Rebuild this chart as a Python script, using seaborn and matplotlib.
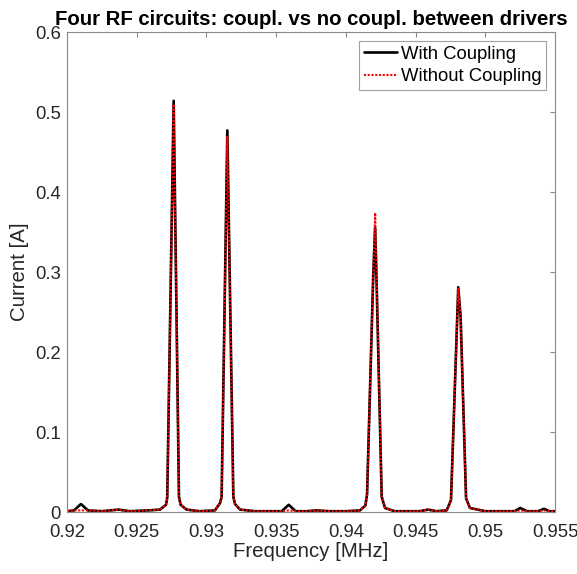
import seaborn as sns
import matplotlib.pyplot as plt
import pandas as pd
import numpy as np

# -- DATA -- #
freq_mhz = [0.9200, 0.9205, 0.9210, 0.9215, 0.9225, 0.9237, 0.9245, 0.9258,
            0.92667, 0.92710, 0.92719, 0.92765, 0.92803, 0.92815, 0.92858, 0.9295,
            0.93061, 0.93097, 0.93109, 0.93150, 0.93193, 0.93205, 0.93241, 0.9335,
            0.9354, 0.9359, 0.9364, 0.9372, 0.9379, 0.9388, 0.9400,
            0.94101, 0.94140, 0.94152, 0.94196, 0.94210, 0.94220, 0.94257, 0.94281,
            0.9435, 0.9453, 0.9459, 0.9465,
            0.94723, 0.94754, 0.94806, 0.94823, 0.94862, 0.94890, 0.9500,
            0.9521, 0.9525, 0.9530, 0.9538, 0.9542, 0.9546, 0.9550]

current_coupled = [0.001, 0.002, 0.010, 0.002, 0.001, 0.003, 0.001, 0.002,
                   0.003, 0.009, 0.018, 0.514, 0.019, 0.009, 0.003, 0.001,
                   0.002, 0.011, 0.019, 0.477, 0.019, 0.010, 0.003, 0.001,
                   0.001, 0.009, 0.001, 0.001, 0.002, 0.001, 0.001,
                   0.002, 0.008, 0.022, 0.294, 0.355, 0.290, 0.019, 0.005,
                   0.001, 0.001, 0.003, 0.001,
                   0.002, 0.015, 0.281, 0.244, 0.017, 0.005, 0.001,
                   0.001, 0.005, 0.001, 0.001, 0.004, 0.001, 0.001]

current_uncoupled = [0.001, 0.002, 0.002, 0.002, 0.001, 0.003, 0.001, 0.002,
                     0.003, 0.009, 0.018, 0.510, 0.019, 0.009, 0.003, 0.001,
                     0.002, 0.011, 0.019, 0.469, 0.019, 0.010, 0.003, 0.001,
                     0.001, 0.002, 0.001, 0.001, 0.002, 0.001, 0.001,
                     0.002, 0.008, 0.022, 0.296, 0.374, 0.300, 0.019, 0.005,
                     0.001, 0.001, 0.003, 0.001,
                     0.002, 0.015, 0.279, 0.244, 0.017, 0.005, 0.001,
                     0.001, 0.002, 0.001, 0.001, 0.002, 0.001, 0.001]

x_ticks = [0.92, 0.925, 0.93, 0.935, 0.94, 0.945, 0.95, 0.955]
y_ticks = [0, 0.1, 0.2, 0.3, 0.4, 0.5, 0.6]

# -- VISUALIZATION -- #
sns.set_style('white')
plt.rcParams['font.family'] = ['Liberation Sans', 'DejaVu Sans']

df = pd.DataFrame({'freq': freq_mhz,
                   'with': current_coupled,
                   'without': current_uncoupled})

fig = plt.figure(figsize=(5.77, 5.74), dpi=100)
ax = fig.add_axes([0.1161, 0.108, 0.8458, 0.8362])

sns.lineplot(data=df, x='freq', y='with', ax=ax, color='black',
             linewidth=1.9, label='With Coupling')
sns.lineplot(data=df, x='freq', y='without', ax=ax, color='red',
             linewidth=1.5, linestyle=(0, (1, 0.8)), label='Without Coupling')

ax.set_xlim(0.92, 0.955)
ax.set_ylim(0, 0.6)
ax.set_xticks(x_ticks)
ax.set_yticks(y_ticks)
ax.set_xticklabels([f'{t:g}' for t in x_ticks])
ax.set_yticklabels([f'{t:g}' for t in y_ticks])

edge = '#8a8a8a'
for s in ax.spines.values():
    s.set_color(edge)
    s.set_linewidth(0.8)
ax.tick_params(direction='in', length=3.6, width=0.8, color=edge,
               labelsize=13.3, labelcolor='#262626', top=True, right=True)
ax.tick_params(axis='x', pad=8.5)
ax.tick_params(axis='y', pad=4.4)

ax.set_xlabel('Frequency [MHz]', fontsize=14.7, color='#262626', labelpad=0.5)
ax.set_ylabel('Current [A]', fontsize=14.7, color='#262626', labelpad=4)
ax.set_title('Four RF circuits: coupl. vs no coupl. between drivers',
             fontsize=14.7, fontweight='bold', color='black', pad=5)

leg = ax.legend(loc='upper right', fontsize=13.3, frameon=True, fancybox=False,
                edgecolor=edge, handlelength=1.8, handletextpad=0.2,
                borderpad=0.25, labelspacing=0.3, borderaxespad=0.5)
leg.get_frame().set_linewidth(0.8)
for t in leg.get_texts():
    t.set_color('black')

fig.savefig('out.png', dpi=100)
